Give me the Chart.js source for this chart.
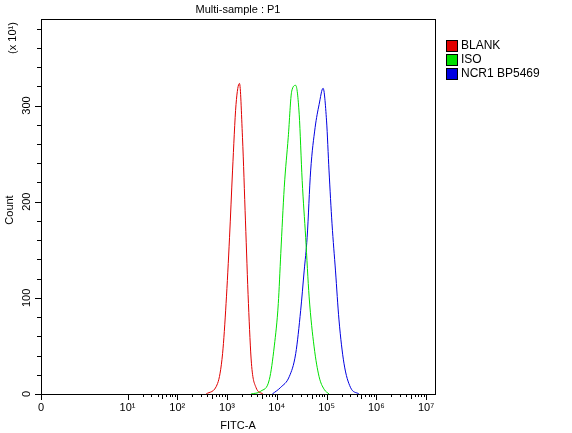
<!DOCTYPE html>
<html><head><meta charset="utf-8">
<script src="https://cdn.jsdelivr.net/npm/chart.js@4"></script>
<style>html,body{margin:0;padding:0;background:#fff}#w{width:572px;height:433px}</style>
</head><body><div id="w"><canvas id="c"></canvas></div>
<script>
// x values are in display decades (log10 of FITC-A); 0 label sits at -0.74
const seriesLabels = ["BLANK", "ISO", "NCR1 BP5469"];
const seriesColors = ["#e00000", "#00e000", "#0000e0"];
const blankX = [2.58,2.81,2.91,2.98,3.05,3.11,3.18,3.25,3.31,3.37,3.43,3.49,3.58,3.72];
const blankY = [0,11,42,94,163,232,301,323,267,180,94,32,7,0];
const isoX = [3.48,3.68,3.85,3.95,4.03,4.08,4.15,4.23,4.30,4.38,4.45,4.51,4.58,4.65,4.75,4.85,4.95,5.05];
const isoY = [0,3,15,50,94,146,215,267,315,321,291,222,163,101,49,18,5,0];
const ncrX = [3.91,4.08,4.25,4.38,4.48,4.55,4.61,4.68,4.77,4.85,4.93,5.00,5.05,5.11,5.18,5.25,5.35,5.48,5.65];
const ncrY = [0,7,18,42,87,128,163,232,277,301,318,284,232,177,128,77,32,7,0];
const xTickPos = [-0.74,1,2,3,4,5,6,7];
const xTickLabels = ["0","10¹","10²","10³","10⁴","10⁵","10⁶","10⁷"];
const yTickLabels = [0,100,200,300];
const FONT = "Arial, 'Liberation Sans', sans-serif";

const toPts = (xs, ys) => xs.map((x,i)=>({x, y: ys[i]}));
const allSeries = [toPts(blankX,blankY), toPts(isoX,isoY), toPts(ncrX,ncrY)];

const deco = {
  id: 'deco',
  afterDraw(chart) {
    const {ctx, chartArea: a, scales: {x, y}} = chart;
    ctx.save();
    ctx.strokeStyle = '#000'; ctx.lineWidth = 1;
    ctx.strokeRect(a.left+0.5, a.top+0.5, a.right-a.left, a.bottom-a.top);
    // x ticks
    ctx.beginPath();
    xTickPos.forEach(v => { const p = Math.round(x.getPixelForValue(v))+0.5; ctx.moveTo(p, a.bottom); ctx.lineTo(p, a.bottom+6); });
    for (let n=1;n<7;n++) for (let k=2;k<10;k++) {
      const p = Math.round(x.getPixelForValue(n+Math.log10(k)))+0.5; ctx.moveTo(p, a.bottom); ctx.lineTo(p, a.bottom+(k===5?5:3));
    }
    // y ticks
    for (let v=0; v<=380; v+=20) {
      const p = Math.round(y.getPixelForValue(v))+0.5; ctx.moveTo(a.left, p); ctx.lineTo(a.left-(v%100===0?6:4), p);
    }
    ctx.stroke();
    ctx.fillStyle = '#000';
    ctx.font = '11px ' + FONT;
    ctx.textAlign = 'center'; ctx.textBaseline = 'top';
    xTickPos.forEach((v,i) => ctx.fillText(xTickLabels[i], x.getPixelForValue(v), a.bottom+8));
    ctx.fillText('FITC-A', (a.left+a.right)/2, 420);
    ctx.fillText('Multi-sample : P1', (a.left+a.right)/2, 4);
    const rot = (t, px, py) => { ctx.save(); ctx.translate(px, py); ctx.rotate(-Math.PI/2); ctx.textBaseline='middle'; ctx.fillText(t, 0, 0); ctx.restore(); };
    yTickLabels.forEach(v => rot(String(v), a.left-14, y.getPixelForValue(v)));
    rot('Count', 10, 210);
    rot('(x 10¹)', 13, 38);
    // legend
    ctx.textAlign = 'left'; ctx.textBaseline = 'middle'; ctx.font = '12px ' + FONT;
    seriesLabels.forEach((l,i) => {
      const yy = 46 + i*14;
      ctx.fillStyle = seriesColors[i]; ctx.fillRect(446, yy-6, 12, 12);
      ctx.strokeStyle = '#000'; ctx.strokeRect(446.5, yy-5.5, 11, 11);
      ctx.fillStyle = '#000'; ctx.fillText(l, 461, yy);
    });
    ctx.restore();
  }
};

new Chart(document.getElementById('c'), {
  type: 'scatter',
  data: { datasets: allSeries.map((d,i)=>({label: seriesLabels[i], data: d, showLine: true, borderColor: seriesColors[i], borderWidth: 1, pointRadius: 0, tension: 0.35, cubicInterpolationMode: 'monotone'})) },
  options: {
    responsive: true, maintainAspectRatio: false, animation: false,
    layout: { padding: { left: 41, right: 137, top: 19, bottom: 39 } },
    plugins: { legend: { display: false }, tooltip: { enabled: false } },
    scales: {
      x: { type: 'linear', min: -0.74, max: 7.18, display: false },
      y: { type: 'linear', min: 0, max: 390, display: false }
    }
  },
  plugins: [deco]
});
</script></body></html>
